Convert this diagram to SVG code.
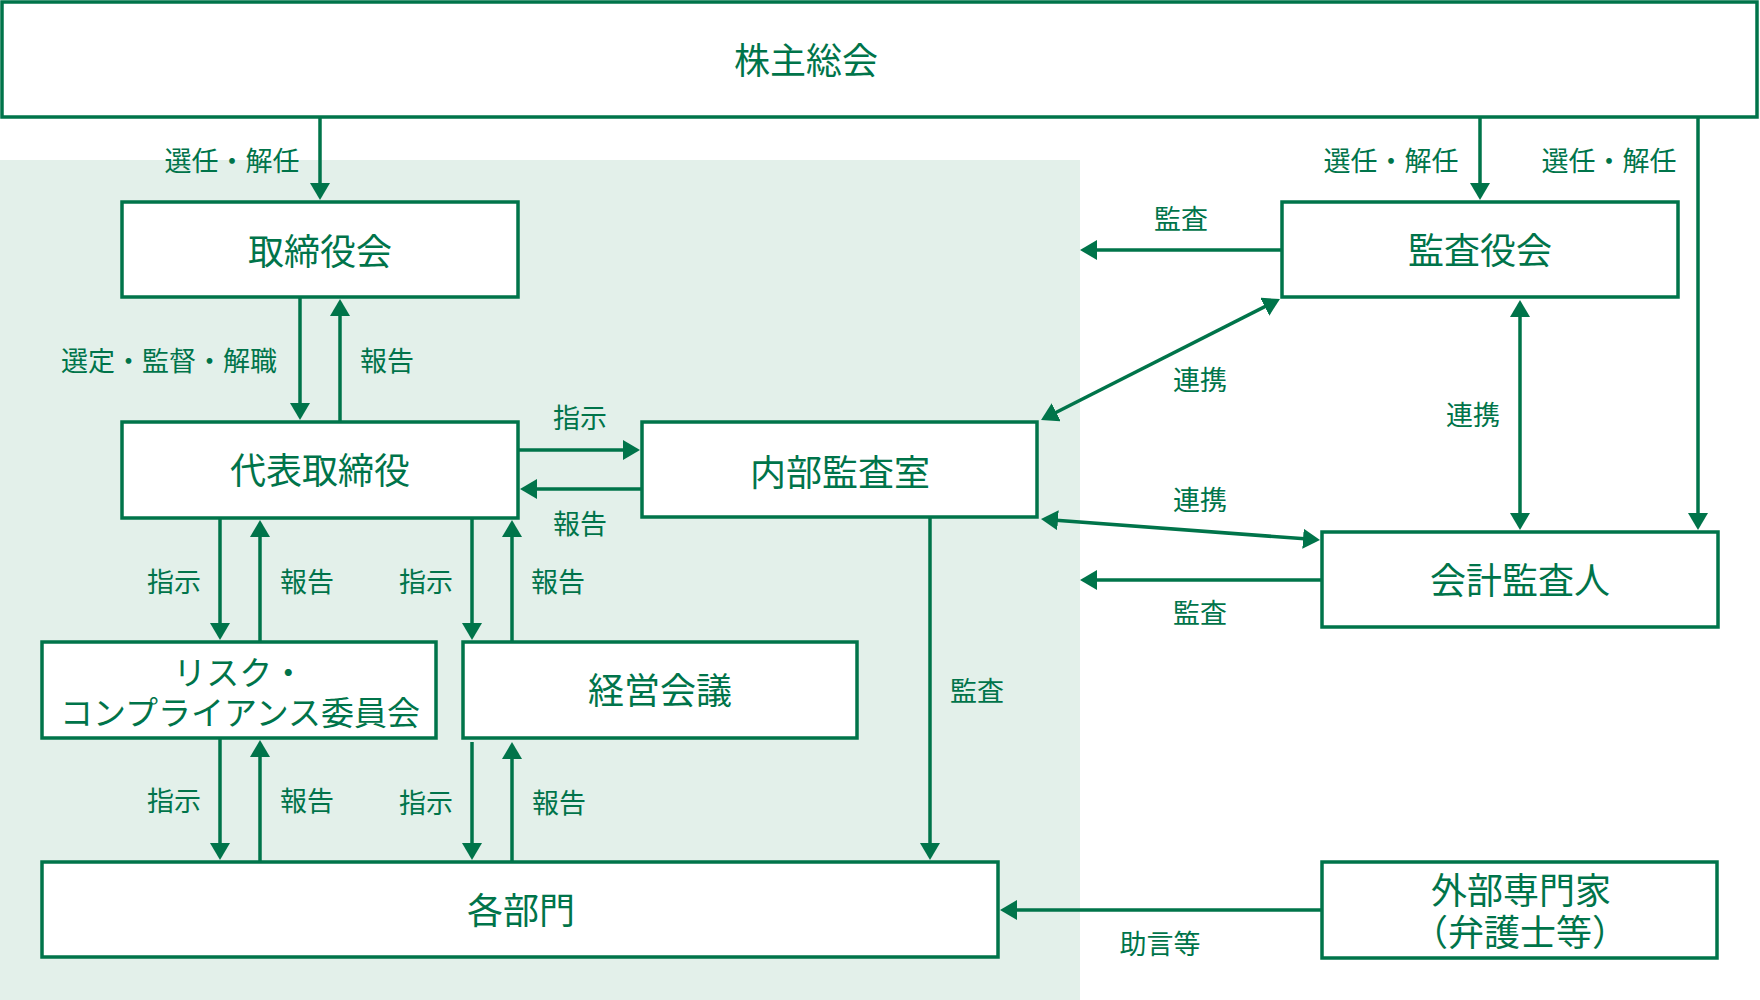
<svg xmlns="http://www.w3.org/2000/svg" width="1760" height="1000" viewBox="0 0 1760 1000">
<defs>
<style>
.box{fill:#fff;stroke:#00744A;stroke-width:3.5}
.ln{fill:none;stroke:#00744A;stroke-width:3.5}
.a{marker-end:url(#ah)}
.d{marker-start:url(#ah);marker-end:url(#ah)}
text{font-family:"Noto Sans CJK JP","Noto Sans CJK SC",sans-serif;fill:#00744A;text-anchor:middle;dominant-baseline:central}
.nt{font-size:36px}
.lb{font-size:27px}
</style>
<marker id="ah" markerUnits="userSpaceOnUse" markerWidth="17" markerHeight="20" refX="12" refY="10" orient="auto-start-reverse" viewBox="0 0 17 20">
<path d="M0,0 L17,10 L0,20 z" fill="#00744A"/>
</marker>
</defs>
<rect x="0" y="160" width="1080" height="840" fill="#E3F0EA"/>

<g id="connectors">
<line class="ln a" x1="320" y1="117" x2="320" y2="195"/>
<line class="ln a" x1="1480" y1="117" x2="1480" y2="195"/>
<line class="ln a" x1="1698" y1="117" x2="1698" y2="525"/>
<line class="ln a" x1="300" y1="297" x2="300" y2="415"/>
<line class="ln a" x1="340" y1="422" x2="340" y2="304"/>
<line class="ln a" x1="518" y1="450" x2="635" y2="450"/>
<line class="ln a" x1="642" y1="489" x2="525" y2="489"/>
<line class="ln a" x1="220" y1="518" x2="220" y2="635"/>
<line class="ln a" x1="260" y1="642" x2="260" y2="525"/>
<line class="ln a" x1="472" y1="518" x2="472" y2="635"/>
<line class="ln a" x1="512" y1="642" x2="512" y2="525"/>
<line class="ln a" x1="220" y1="738" x2="220" y2="855"/>
<line class="ln a" x1="260" y1="862" x2="260" y2="745"/>
<line class="ln a" x1="472" y1="742" x2="472" y2="855"/>
<line class="ln a" x1="512" y1="862" x2="512" y2="747"/>
<line class="ln a" x1="930" y1="517" x2="930" y2="855"/>
<line class="ln a" x1="1282" y1="250" x2="1085" y2="250"/>
<line class="ln a" x1="1322" y1="580" x2="1085" y2="580"/>
<line class="ln a" x1="1322" y1="910" x2="1005" y2="910"/>
<line class="ln d" x1="1275.5" y1="301.3" x2="1045.5" y2="417.7"/>
<line class="ln d" x1="1520" y1="305" x2="1520" y2="525"/>
<line class="ln d" x1="1046" y1="519.4" x2="1315" y2="539.6"/>
</g>

<g id="labels" class="lb">
<text x="232" y="159">選任・解任</text>
<text x="1391" y="159">選任・解任</text>
<text x="1609" y="159">選任・解任</text>
<text x="1181" y="217">監査</text>
<text x="169" y="359">選定・監督・解職</text>
<text x="387" y="359">報告</text>
<text x="1200" y="378">連携</text>
<text x="1473" y="413">連携</text>
<text x="580" y="416">指示</text>
<text x="580" y="522">報告</text>
<text x="1200" y="498">連携</text>
<text x="174" y="580">指示</text>
<text x="307" y="580">報告</text>
<text x="426" y="580">指示</text>
<text x="558" y="580">報告</text>
<text x="1200" y="611">監査</text>
<text x="977" y="689">監査</text>
<text x="174" y="799">指示</text>
<text x="307" y="799">報告</text>
<text x="426" y="801">指示</text>
<text x="559" y="801">報告</text>
<text x="1160" y="942">助言等</text>
</g>

<g id="shareholders"><rect class="box" x="2" y="2" width="1755" height="115"/><text class="nt" x="806" y="58">株主総会</text></g>
<g id="board"><rect class="box" x="122" y="202" width="396" height="95"/><text class="nt" x="320" y="249">取締役会</text></g>
<g id="auditboard"><rect class="box" x="1282" y="202" width="396" height="95"/><text class="nt" x="1480" y="248">監査役会</text></g>
<g id="ceo"><rect class="box" x="122" y="422" width="396" height="96"/><text class="nt" x="320" y="468">代表取締役</text></g>
<g id="internalaudit"><rect class="box" x="642" y="422" width="395" height="95"/><text class="nt" x="840" y="470">内部監査室</text></g>
<g id="accountingauditor"><rect class="box" x="1322" y="532" width="396" height="95"/><text class="nt" x="1520" y="578">会計監査人</text></g>
<g id="risk"><rect class="box" x="42" y="642" width="394" height="96"/><text x="239" y="671" style="font-size:33px">リスク・</text><text x="240" y="711" style="font-size:33px">コンプライアンス委員会</text></g>
<g id="management"><rect class="box" x="463" y="642" width="394" height="96"/><text class="nt" x="660" y="688">経営会議</text></g>
<g id="departments"><rect class="box" x="42" y="862" width="956" height="95"/><text class="nt" x="521" y="908">各部門</text></g>
<g id="experts"><rect class="box" x="1322" y="862" width="395" height="96"/><text class="nt" x="1521" y="888">外部専門家</text><text class="nt" x="1520" y="930">（弁護士等）</text></g>
</svg>
